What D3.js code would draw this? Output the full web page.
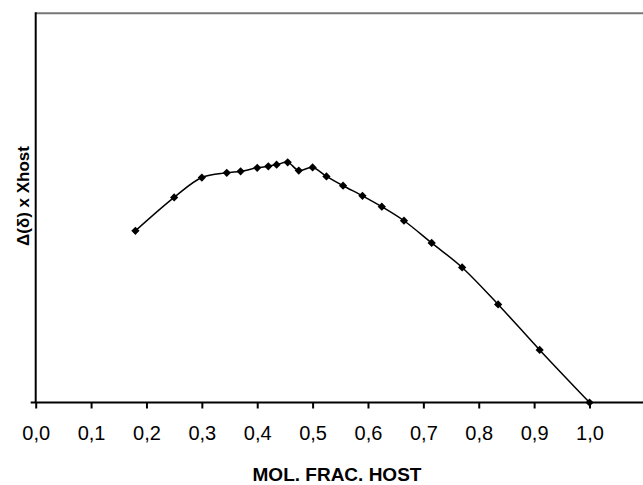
<!DOCTYPE html>
<html>
<head>
<meta charset="utf-8">
<script src="https://cdn.jsdelivr.net/npm/d3@7"></script>
<style>
  body { margin: 0; background: #fff; }
  .tick-label { font-family: "Liberation Sans", Arial, sans-serif; font-size: 20px; fill: #000; }
  .axis-label { font-family: "Liberation Sans", Arial, sans-serif; font-weight: bold; fill: #000; }
</style>
</head>
<body>
<div id="chart"></div>
<script>
// mole fraction of host (x) and delta(delta) * Xhost (arbitrary units)
var molFrac = [0.18, 0.25, 0.30, 0.345, 0.37, 0.40, 0.42, 0.435, 0.455, 0.475, 0.50,
               0.525, 0.555, 0.59, 0.625, 0.665, 0.715, 0.77, 0.835, 0.91, 1.0];
var deltaX  = [0.441, 0.527, 0.578, 0.590, 0.594, 0.603, 0.607, 0.611, 0.617, 0.596, 0.604,
               0.581, 0.557, 0.531, 0.503, 0.467, 0.410, 0.347, 0.252, 0.135, 0.0];
var xTicks = [0, 0.1, 0.2, 0.3, 0.4, 0.5, 0.6, 0.7, 0.8, 0.9, 1.0];
var xTitle = "MOL. FRAC. HOST";
var yTitle = "\u0394(\u03b4) x Xhost";

JobPlot = function(_parentElement) {
  this.parentElement = _parentElement;
  this.initVis();
};

JobPlot.prototype.initVis = function() {
  var vis = this;

  vis.width = 643;
  vis.height = 485;

  // plot frame (left, top, x axis position)
  vis.left = 35.7;
  vis.top = 13.3;
  vis.bottom = 402.5;

  vis.svg = d3.select(vis.parentElement).append("svg")
    .attr("width", vis.width)
    .attr("height", vis.height);

  vis.data = molFrac.map(function(d, i) { return {x: d, y: deltaX[i]}; });

  vis.x = d3.scaleLinear().domain([0, 1.1]).range([vis.left, vis.left + 1.1 * 553.8]);
  vis.y = d3.scaleLinear().domain([0, 1]).range([vis.bottom, vis.top]);

  // top border (grey)
  vis.svg.append("line")
    .attr("x1", vis.left).attr("x2", vis.width)
    .attr("y1", vis.top).attr("y2", vis.top)
    .attr("stroke", "#777").attr("stroke-width", 2);

  // left axis
  vis.svg.append("line")
    .attr("x1", vis.left).attr("x2", vis.left)
    .attr("y1", vis.top - 1).attr("y2", vis.bottom)
    .attr("stroke", "#000").attr("stroke-width", 2);

  // x axis
  vis.xAxis = vis.svg.append("g")
    .attr("transform", "translate(0," + vis.bottom + ")")
    .call(d3.axisBottom(vis.x)
      .tickValues(xTicks)
      .tickSizeInner(6)
      .tickSizeOuter(0)
      .tickPadding(17)
      .tickFormat(function(d) { return d3.format(".1f")(d).replace(".", ","); }));

  vis.xAxis.select(".domain")
    .attr("d", "M" + (vis.left - 5) + ",0H" + vis.width)
    .attr("stroke", "#000").attr("stroke-width", 2);
  vis.xAxis.selectAll(".tick line").attr("stroke", "#000").attr("stroke-width", 2);
  vis.xAxis.selectAll(".tick text")
    .attr("class", "tick-label")
    .attr("font-family", null).attr("font-size", null);

  // line
  vis.line = d3.line()
    .x(function(d) { return vis.x(d.x); })
    .y(function(d) { return vis.y(d.y); })
    .curve(d3.curveCatmullRom.alpha(0.5));

  vis.svg.append("path")
    .datum(vis.data)
    .attr("d", vis.line)
    .attr("fill", "none")
    .attr("stroke", "#000")
    .attr("stroke-width", 1.5);

  // diamond markers
  vis.svg.selectAll("path.marker")
    .data(vis.data)
    .enter().append("path")
    .attr("class", "marker")
    .attr("d", d3.symbol().type(d3.symbolSquare).size(34))
    .attr("transform", function(d) {
      return "translate(" + vis.x(d.x) + "," + vis.y(d.y) + ") rotate(45)";
    })
    .attr("fill", "#000");

  // axis titles
  vis.svg.append("text")
    .attr("class", "axis-label")
    .attr("x", 337)
    .attr("y", 481)
    .style("font-size", "19px")
    .style("text-anchor", "middle")
    .text(xTitle);

  vis.svg.append("text")
    .attr("class", "axis-label")
    .attr("transform", "translate(29,196) rotate(-90)")
    .style("font-size", "17px")
    .style("text-anchor", "middle")
    .text(yTitle);
};

var chart = new JobPlot("#chart");
</script>
</body>
</html>
